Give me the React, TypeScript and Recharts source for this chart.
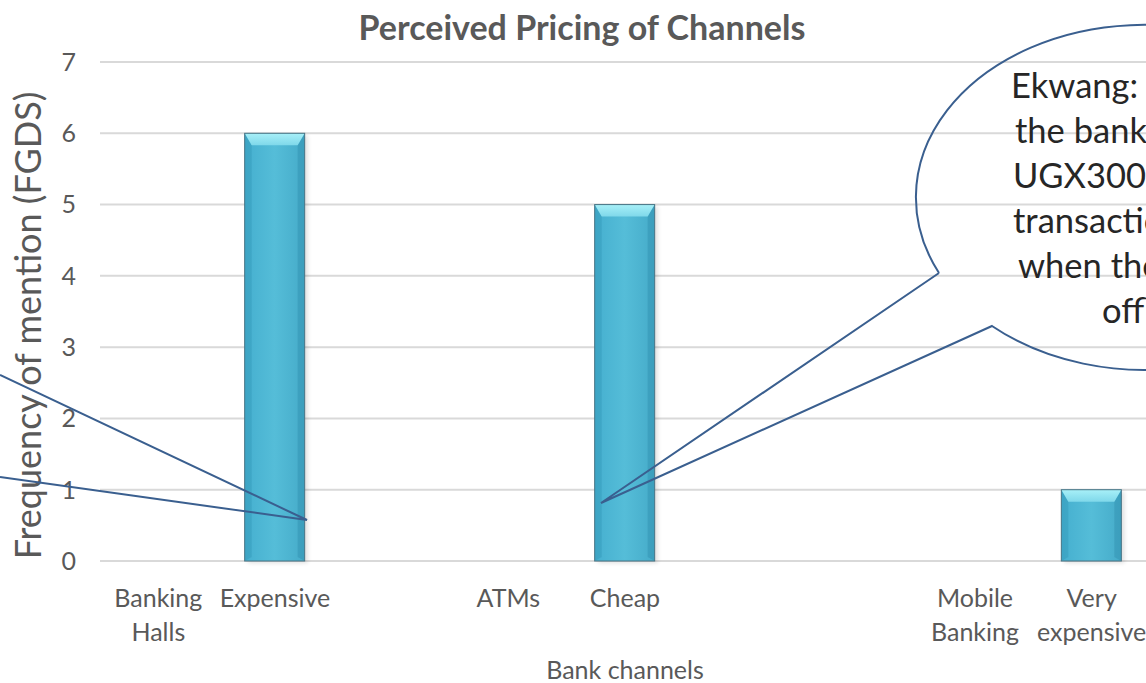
import React from "react";
import { BarChart, Bar, XAxis, YAxis, CartesianGrid, Label } from "recharts";

const FONT = "Lato, 'Open Sans', sans-serif";

// Category slots (empty strings are unlabeled spacer slots in the original axis)
const categories = [
  "Banking Halls",
  "Expensive",
  "",
  "ATMs",
  "Cheap",
  "",
  "",
  "Mobile Banking",
  "Very expensive",
];
const frequency = [0, 6, 0, 0, 5, 0, 0, 0, 1];
const yTicks = [0, 1, 2, 3, 4, 5, 6, 7];

const chartTitle = "Perceived Pricing of Channels";
const yTitle = "Frequency of mention (FGDS)";
const xTitle = "Bank channels";
const calloutLines = [
  "Ekwang: 'When I go to",
  "the bank I pay",
  "UGX3000 per",
  "transaction even",
  "when the system is",
  "offline'",
];

const data = categories.map((c, i) => ({ key: `c${i}`, label: c, value: frequency[i] }));
const labelByKey: Record<string, string> = {};
data.forEach((d) => (labelByKey[d.key] = d.label));

const XTick = (props: any) => {
  const { x, y, payload } = props;
  const label = labelByKey[payload?.value] ?? "";
  if (!label) return null;
  const lines = label.includes(" ") ? label.split(" ") : [label];
  return (
    <text x={x} y={y} textAnchor="middle" fill="#595959" fontFamily={FONT} fontSize={25}>
      {lines.map((l, i) => (
        <tspan key={i} x={x} y={y + 46 + i * 34}>
          {l}
        </tspan>
      ))}
    </text>
  );
};

const BevelBar = (props: any) => {
  const { x, y, width, height } = props;
  if (!height || height <= 0) return null;
  const b = Math.min(12, height / 2);
  const s = Math.min(7, width / 4);
  return (
    <g>
      <rect x={x + 3} y={y + 2} width={width} height={height} fill="#000" opacity={0.12} filter="url(#barShadow)" />
      <rect x={x} y={y} width={width} height={height} fill="url(#barBody)" />
      <polygon
        points={`${x},${y} ${x + s},${y + b} ${x + s},${y + height - 4} ${x},${y + height}`}
        fill="#2f93b3"
        opacity={0.35}
      />
      <polygon
        points={`${x + width},${y} ${x + width - s},${y + b} ${x + width - s},${y + height - 4} ${x + width},${y + height}`}
        fill="#2a86a6"
        opacity={0.35}
      />
      <polygon
        points={`${x},${y} ${x + width},${y} ${x + width - s},${y + b} ${x + s},${y + b}`}
        fill="url(#barTop)"
      />
      <rect x={x} y={y} width={width} height={height} fill="none" stroke="#4a7585" strokeWidth={1} />
    </g>
  );
};

export default function App() {
  return (
    <div
      style={{
        position: "absolute",
        left: 0,
        top: 0,
        width: 1146,
        height: 683,
        overflow: "hidden",
        background: "#fff",
      }}
    >
      <svg width={0} height={0} style={{ position: "absolute" }}>
        <defs>
          <linearGradient id="barBody" x1="0" y1="0" x2="1" y2="0">
            <stop offset="0" stopColor="#45afcf" />
            <stop offset="0.5" stopColor="#55bdd8" />
            <stop offset="1" stopColor="#45abc9" />
          </linearGradient>
          <linearGradient id="barTop" x1="0" y1="0" x2="0" y2="1">
            <stop offset="0" stopColor="#a8f0f8" />
            <stop offset="1" stopColor="#7fd8ea" />
          </linearGradient>
          <filter id="barShadow" x="-20%" y="-20%" width="140%" height="140%">
            <feGaussianBlur stdDeviation="2" />
          </filter>
        </defs>
      </svg>
      <BarChart
        width={1170}
        height={683}
        data={data}
        margin={{ top: 62, right: 20, bottom: 0, left: 0 }}
      >
        <CartesianGrid vertical={false} stroke="#d9d9d9" strokeWidth={2} />
        <XAxis
          dataKey="key"
          height={122}
          axisLine={false}
          tickLine={false}
          tickSize={0}
          tickMargin={0}
          interval={0}
          tick={<XTick />}
        >
          <Label
            content={(p: any) => {
              const vb = p.viewBox || {};
              return (
                <text
                  x={vb.x + vb.width / 2}
                  y={679}
                  textAnchor="middle"
                  fill="#595959"
                  fontFamily={FONT}
                  fontSize={25}
                >
                  {xTitle}
                </text>
              );
            }}
          />
        </XAxis>
        <YAxis
          domain={[0, 7]}
          ticks={yTicks}
          interval={0}
          width={100}
          axisLine={false}
          tickLine={false}
          tickSize={0}
          tickMargin={24}
          tick={{ fill: "#595959", fontSize: 25, fontFamily: FONT }}
        >
          <Label
            content={(p: any) => {
              const vb = p.viewBox || {};
              const cy = vb.y + vb.height / 2 + 14;
              return (
                <text
                  transform="rotate(-90)"
                  x={-cy}
                  y={41}
                  textAnchor="middle"
                  fill="#595959"
                  fontFamily={FONT}
                  fontSize={36}
                >
                  {yTitle}
                </text>
              );
            }}
          />
        </YAxis>
        <Bar dataKey="value" barSize={60} shape={<BevelBar />} isAnimationActive={false} />
      </BarChart>
      <svg
        width={1146}
        height={683}
        style={{ position: "absolute", left: 0, top: 0, pointerEvents: "none" }}
      >
        <text
          x={582}
          y={40}
          textAnchor="middle"
          fill="#595959"
          fontFamily={FONT}
          fontWeight="bold"
          fontSize={34}
        >
          {chartTitle}
        </text>
        <polyline points="0,375 307,520 0,477" fill="none" stroke="#3a5f8f" strokeWidth={2} />
        <path
          d="M 939 273 L 601 503 L 992 326 A 228 172.5 0 1 0 939 273"
          fill="none"
          stroke="#3a5f8f"
          strokeWidth={2}
          strokeLinejoin="miter"
        />
        {calloutLines.map((l, i) => (
          <text
            key={i}
            x={[1011, 1015, 1013, 1013, 1018, 1102][i]}
            y={98 + i * 45}
            fill="#262626"
            fontFamily={FONT}
            fontSize={34.5}
          >
            {l}
          </text>
        ))}
      </svg>
    </div>
  );
}
